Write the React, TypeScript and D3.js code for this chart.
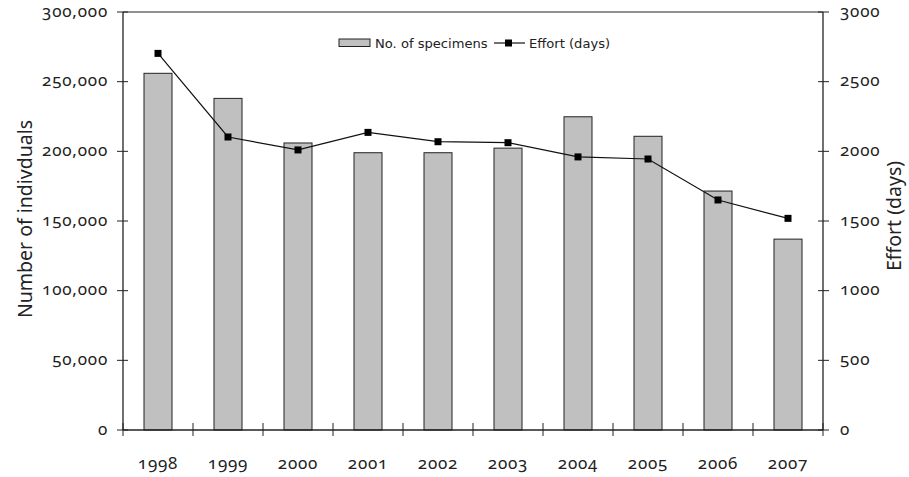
import React from "react";
import * as d3 from "d3";

const years = ["1998", "1999", "2000", "2001", "2002", "2003", "2004", "2005", "2006", "2007"];
const specimens = [256000, 238000, 206000, 199000, 199000, 202300, 224800, 210800, 171500, 137000];
const effort = [2703, 2103, 2010, 2136, 2069, 2062, 1960, 1945, 1651, 1519];
const leftTicks = [0, 50000, 100000, 150000, 200000, 250000, 300000];
const rightTicks = [0, 500, 1000, 1500, 2000, 2500, 3000];

const W = 909, H = 477;
const M = { left: 123, right: 823, top: 12, bottom: 430 };

export default function App() {
  const x = d3.scaleBand<string>().domain(years).range([M.left, M.right]).paddingInner(0.6).paddingOuter(0.3);
  const xc = d3.scaleBand<string>().domain(years).range([M.left, M.right]);
  const yL = d3.scaleLinear().domain([0, 300000]).range([M.bottom, M.top]);
  const yR = d3.scaleLinear().domain([0, 3000]).range([M.bottom, M.top]);
  const fmt = d3.format(",");
  const line = d3.line<number>().x((_, i) => xc(years[i])! + xc.bandwidth() / 2).y((d) => yR(d));
  const numFont: React.CSSProperties = { fontFamily: "'Noto Sans', 'Open Sans', sans-serif", fontVariantNumeric: "oldstyle-nums", fontSize: 17, letterSpacing: 0.8 };
  const titleFont: React.CSSProperties = { fontFamily: "'Noto Sans', sans-serif", fontSize: 19.5 };
  const legFont: React.CSSProperties = { fontFamily: "'DejaVu Sans', sans-serif", fontSize: 13.1 };
  const bounds = [...years.map((y) => xc(y)!), M.right];

  return (
    <svg width={W} height={H} style={{ position: "absolute", left: 0, top: 0, background: "#fff" }}>
      {years.map((yr, i) => (
        <rect key={yr} x={x(yr)!} y={yL(specimens[i])} width={x.bandwidth()} height={M.bottom - yL(specimens[i])}
          fill="#c0c0c0" stroke="#222" strokeWidth={1} />
      ))}
      <line x1={M.left} x2={M.right} y1={M.top} y2={M.top} stroke="#222" strokeWidth={1} />
      <line x1={M.left} x2={M.left} y1={M.top} y2={M.bottom} stroke="#222" strokeWidth={1.3} />
      <line x1={M.right} x2={M.right} y1={M.top} y2={M.bottom} stroke="#222" strokeWidth={1.3} />
      <line x1={M.left} x2={M.right} y1={M.bottom} y2={M.bottom} stroke="#222" strokeWidth={1.3} />
      {leftTicks.map((t) => (
        <g key={"l" + t}>
          <line x1={M.left - 6} x2={M.left + 5} y1={yL(t)} y2={yL(t)} stroke="#222" />
          <text x={108} y={yL(t)} dy="0.27em" textAnchor="end" style={numFont} fill="#222">{fmt(t)}</text>
        </g>
      ))}
      {rightTicks.map((t) => (
        <g key={"r" + t}>
          <line x1={M.right - 5} x2={M.right + 6} y1={yR(t)} y2={yR(t)} stroke="#222" />
          <text x={840} y={yR(t)} dy="0.27em" textAnchor="start" style={numFont} fill="#222">{t}</text>
        </g>
      ))}
      {bounds.map((b, i) => (
        <line key={"b" + i} x1={b} x2={b} y1={M.bottom - 7} y2={M.bottom + 6} stroke="#222" />
      ))}
      {years.map((yr) => (
        <text key={"t" + yr} x={xc(yr)! + xc.bandwidth() / 2} y={469} textAnchor="middle" style={numFont} fill="#222">{yr}</text>
      ))}
      <path d={line(effort)!} fill="none" stroke="#111" strokeWidth={1.2} />
      {effort.map((v, i) => (
        <rect key={"m" + i} x={xc(years[i])! + xc.bandwidth() / 2 - 3.5} y={yR(v) - 3.5} width={7} height={7} fill="#000" />
      ))}
      <text transform={`translate(32,219) rotate(-90)`} textAnchor="middle" style={titleFont} fill="#222">Number of indivduals</text>
      <text transform={`translate(901,216) rotate(-90)`} textAnchor="middle" style={titleFont} fill="#222">Effort (days)</text>
      <rect x={339} y={39} width={31} height={7.5} fill="#c0c0c0" stroke="#222" />
      <text x={375} y={48} style={legFont} fill="#222">No. of specimens</text>
      <line x1={494} x2={525} y1={43} y2={43} stroke="#111" strokeWidth={1.2} />
      <rect x={505} y={39.5} width={7} height={7} fill="#000" />
      <text x={529} y={48} style={legFont} fill="#222">Effort (days)</text>
    </svg>
  );
}
